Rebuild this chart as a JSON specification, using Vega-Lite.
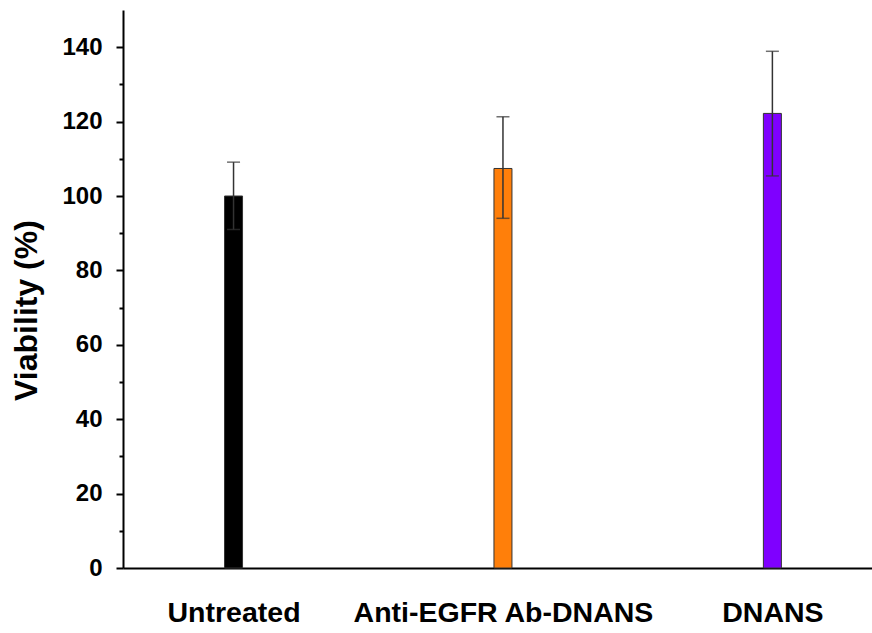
{
  "$schema": "https://vega.github.io/schema/vega-lite/v6.json",
  "width": 749,
  "height": 558,
  "autosize": "none",
  "padding": {"left": 123, "top": 10, "right": 0, "bottom": 65},
  "background": "white",
  "config": {
    "view": {"stroke": null},
    "font": "Liberation Sans"
  },
  "data": {
    "values": [
      {"group": "Untreated", "viability": 100, "lo": 91, "hi": 109.1},
      {"group": "Anti-EGFR Ab-DNANS", "viability": 107.4, "lo": 94.0, "hi": 121.3},
      {"group": "DNANS", "viability": 122.2, "lo": 105.4, "hi": 138.9}
    ]
  },
  "encoding": {
    "x": {
      "field": "group",
      "type": "nominal",
      "sort": null,
      "scale": {"type": "point", "padding": 0.39, "align": 0.526},
      "axis": {
        "title": null,
        "labelAngle": 0,
        "labelFont": "Liberation Sans",
        "labelFontWeight": "bold",
        "labelFontSize": 28.5,
        "labelColor": "black",
        "labelPadding": 30,
        "labelLimit": 0,
        "ticks": false,
        "domainColor": "black",
        "domainWidth": 2,
        "grid": false
      }
    }
  },
  "layer": [
    {
      "mark": {"type": "bar", "size": 18, "stroke": "#333333", "strokeWidth": 1},
      "encoding": {
        "y": {
          "field": "viability",
          "type": "quantitative",
          "scale": {"domain": [0, 150], "nice": false},
          "axis": {
            "title": "Viability (%)",
            "titleFont": "Liberation Sans",
            "titleFontSize": 32,
            "titleFontWeight": "bold",
            "titleColor": "black",
            "titlePadding": 18,
            "titleY": 300,
            "values": [0, 20, 40, 60, 80, 100, 120, 140],
            "labelFont": "Liberation Sans",
            "labelFontWeight": "bold",
            "labelFontSize": 24,
            "labelColor": "black",
            "labelPadding": 14,
            "tickSize": 7,
            "tickWidth": 2,
            "tickColor": "black",
            "domainColor": "black",
            "domainWidth": 2,
            "grid": false
          }
        },
        "color": {
          "field": "group",
          "type": "nominal",
          "scale": {
            "domain": ["Untreated", "Anti-EGFR Ab-DNANS", "DNANS"],
            "range": ["#000000", "#FF7F0A", "#7F00FF"]
          },
          "legend": null
        }
      }
    },
    {
      "mark": {"type": "rule", "color": "#333333", "strokeWidth": 1.5},
      "encoding": {
        "y": {"field": "lo", "type": "quantitative", "axis": null},
        "y2": {"field": "hi"}
      }
    },
    {
      "mark": {"type": "tick", "color": "#333333", "size": 13, "thickness": 1.5, "orient": "horizontal"},
      "encoding": {"y": {"field": "hi", "type": "quantitative", "axis": null}}
    },
    {
      "mark": {"type": "tick", "color": "#333333", "size": 13, "thickness": 1.5, "orient": "horizontal"},
      "encoding": {"y": {"field": "lo", "type": "quantitative", "axis": null}}
    },
    {
      "mark": {"type": "point", "opacity": 0},
      "encoding": {
        "y": {
          "field": "viability",
          "type": "quantitative",
          "axis": {
            "orient": "left",
            "title": null,
            "values": [10, 30, 50, 70, 90, 110, 130],
            "labels": false,
            "tickSize": 4,
            "tickWidth": 2,
            "tickColor": "black",
            "domain": false,
            "grid": false
          }
        }
      }
    }
  ],
  "resolve": {"axis": {"y": "independent"}}
}
